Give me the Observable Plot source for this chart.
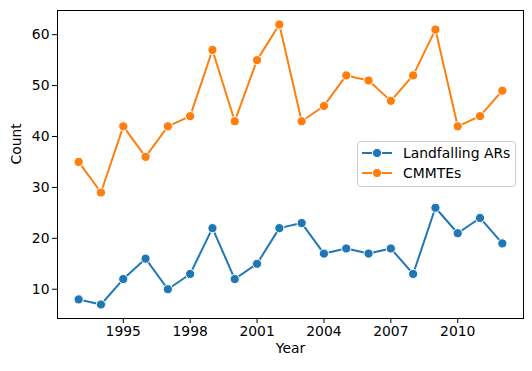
<!DOCTYPE html>
<html><head><meta charset="utf-8">
<script src="https://cdn.jsdelivr.net/npm/d3@7"></script>
<script src="https://cdn.jsdelivr.net/npm/@observablehq/plot@0.6"></script>
<style>body{margin:0;background:#fff}#chart{position:relative;width:532px;height:371px}</style>
</head><body><div id="chart"></div>
<script>
const years = [1993,1994,1995,1996,1997,1998,1999,2000,2001,2002,2003,2004,2005,2006,2007,2008,2009,2010,2011,2012];
const landfallingARs = [8,7,12,16,10,13,22,12,15,22,23,17,18,17,18,13,26,21,24,19];
const cmmtes = [35,29,42,36,42,44,57,43,55,62,43,46,52,51,47,52,61,42,44,49];
const seriesNames = ["Landfalling ARs", "CMMTEs"];
const seriesColors = ["#1f77b4", "#ff7f0e"];
const xTicks = [1995,1998,2001,2004,2007,2010];
const yTicks = [10,20,30,40,50,60];

const data = [];
years.forEach((y,i)=>{
  data.push({year:y, count:landfallingARs[i], series:seriesNames[0]});
  data.push({year:y, count:cmmtes[i], series:seriesNames[1]});
});

const font = "'DejaVu Sans', sans-serif";
const fs = 13.9;
const plot = Plot.plot({
  width: 532, height: 371,
  marginLeft: 57, marginRight: 9, marginTop: 10, marginBottom: 53,
  style: {fontFamily: font, fontSize: fs + "px", color: "#000", background: "#fff"},
  x: {domain: [1992.05, 2012.95]},
  y: {domain: [4.25, 64.75]},
  color: {domain: seriesNames, range: seriesColors},
  marks: [
    Plot.axisX({ticks: xTicks, tickSize: 5, tickPadding: 3, tickFormat: d => String(d), label: null, fontSize: fs}),
    Plot.axisY({ticks: yTicks, tickSize: 5, tickPadding: 3, label: null, fontSize: fs}),
    Plot.line(data, {x: "year", y: "count", z: "series", stroke: "series", strokeWidth: 2}),
    Plot.dot(data, {x: "year", y: "count", fill: "series", stroke: "white", strokeWidth: 1, r: 4.6}),
    Plot.frame({stroke: "black", strokeWidth: 1}),
    Plot.text(["Count"], {frameAnchor: "left", dx: -41, rotate: -90, text: d => d, fontSize: fs}),
    Plot.text(["Year"], {frameAnchor: "bottom", dy: 34, text: d => d, fontSize: fs})
  ]
});
document.getElementById("chart").appendChild(plot);

// legend
const svg = d3.select(plot);
const lg = svg.append("g").style("text-anchor", "start");
lg.append("rect").attr("x", 357.5).attr("y", 141.5).attr("width", 158).attr("height", 45).attr("rx", 3)
  .style("fill", "white").style("fill-opacity", 0.8).style("stroke", "#cccccc").style("stroke-width", "1px");
seriesNames.forEach((name, i) => {
  const cy = 153 + i * 20;
  lg.append("line").attr("x1", 362).attr("x2", 392).attr("y1", cy).attr("y2", cy)
    .style("stroke", seriesColors[i]).style("stroke-width", "2px");
  lg.append("circle").attr("cx", 377).attr("cy", cy).attr("r", 4.6)
    .style("fill", seriesColors[i]).style("stroke", "white").style("stroke-width", "1px");
  lg.append("text").attr("x", 403).attr("y", cy).attr("dy", "0.35em")
    .style("font-family", font).style("font-size", fs + "px").style("fill", "#000").style("text-anchor", "start").text(name);
});
</script></body></html>
